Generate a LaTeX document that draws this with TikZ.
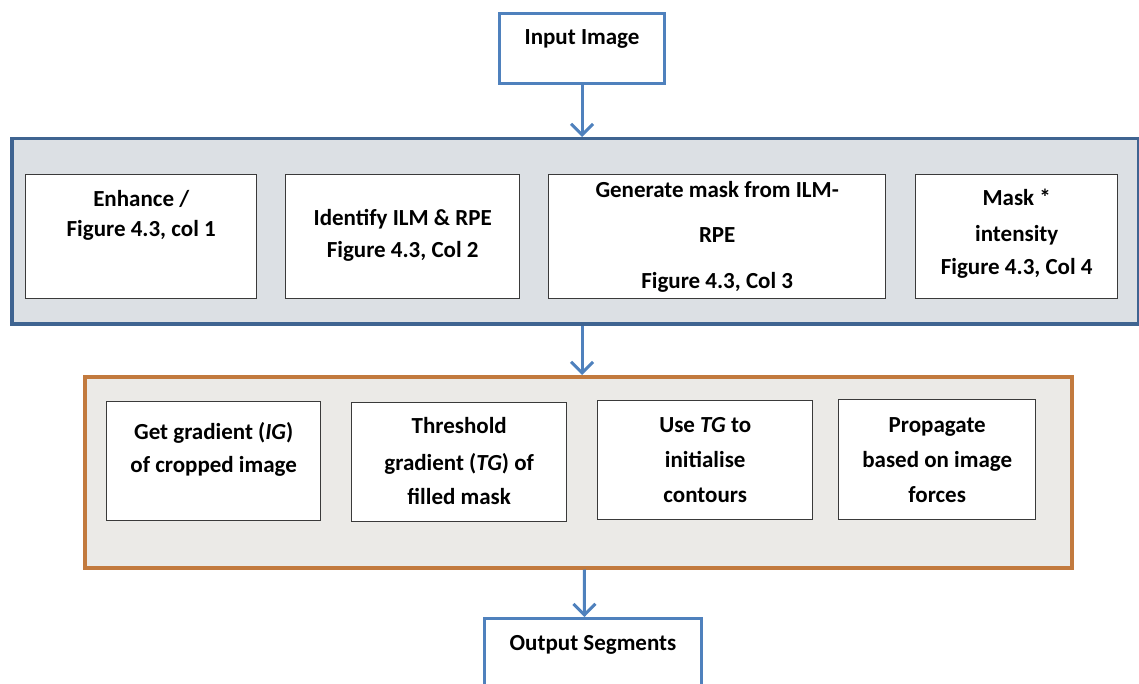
\documentclass[tikz,border=0pt]{standalone}
\usepackage{fontspec}
\setmainfont{Carlito}
\usetikzlibrary{arrows.meta,calc}
\definecolor{lblue}{HTML}{4F81BD}
\definecolor{dblue}{HTML}{3F6491}
\definecolor{bfill}{HTML}{DCE0E4}
\definecolor{orng}{HTML}{C27A3E}
\definecolor{ofill}{HTML}{EBEAE7}
\definecolor{bdr}{HTML}{3A3A3A}
\tikzset{
  iobox/.style={draw=lblue, line width=3pt, fill=white, anchor=north west, inner sep=0pt},
  bluecont/.style={draw=dblue, line width=3.5pt, fill=bfill, anchor=north west, inner sep=0pt},
  orcont/.style={draw=orng, line width=3.5pt, fill=ofill, anchor=north west, inner sep=0pt},
  inbox/.style={draw=bdr, line width=1.4pt, fill=white, anchor=north west, inner sep=0pt},
  txt/.style={font=\fontsize{23}{34}\selectfont\bfseries, align=center, inner sep=0pt, anchor=base},
  flow/.style={draw=lblue, line width=3pt, -{Straight Barb[length=11pt,width=22pt,line width=3pt]}},
}
\begin{document}
\begin{tikzpicture}[x=1pt,y=-1pt]
\useasboundingbox (0,0) rectangle (1139,684);
% input
\node[iobox, minimum width=165pt, minimum height=70pt] (inp) at (498,12) {};
\node[txt] (tinp) at ($(inp.north)+(0,33)$) {Input Image};
% blue container
\node[bluecont, minimum width=1127pt, minimum height=185pt] (bc) at (10,137) {};
\node[inbox, minimum width=231pt, minimum height=124pt] (b1) at (25,174) {};
\node[inbox, minimum width=234pt, minimum height=124pt] (b2) at (285,174) {};
\node[inbox, minimum width=337pt, minimum height=124pt] (b3) at (548,174) {};
\node[inbox, minimum width=202pt, minimum height=124pt] (b4) at (915,174) {};
\node[txt] (t1) at ($(b1.north)+(0,63)$) {Enhance /\\[-4pt]Figure 4.3, col 1};
\node[txt] (t2) at ($(b2.north)+(0,84)$) {Identify ILM \& RPE\\[-2pt]Figure 4.3, Col 2};
\node[txt] (t3) at ($(b3.north)+(0,114)$) {Generate mask from ILM-\\[11pt]RPE\\[11pt]Figure 4.3, Col 3};
\node[txt] (t4) at ($(b4.north)+(0,101)$) {Mask *\\[2pt]intensity\\[-1pt]Figure 4.3, Col 4};
% orange container
\node[orcont, minimum width=987pt, minimum height=191pt] (oc) at (83,375) {};
\node[inbox, minimum width=214pt, minimum height=119pt] (c1) at (106,401) {};
\node[inbox, minimum width=215pt, minimum height=119pt] (c2) at (351,402) {};
\node[inbox, minimum width=215pt, minimum height=119pt] (c3) at (597,400) {};
\node[inbox, minimum width=197pt, minimum height=120pt] (c4) at (838,399) {};
\node[txt] (u1) at ($(c1.north)+(0,71)$) {Get gradient (\textit{IG})\\[-1pt]of cropped image};
\node[txt] (u2) at ($(c2.north)+(0,102)$) {Threshold\\[3pt]gradient (\textit{TG}) of\\[0pt]filled mask};
\node[txt] (u3) at ($(c3.north)+(0,102)$) {Use \textit{TG} to\\[1pt]initialise\\[1pt]contours};
\node[txt] (u4) at ($(c4.north)+(0,103)$) {Propagate\\[1pt]based on image\\[1pt]forces};
% output
\node[iobox, minimum width=217pt, minimum height=85pt] (out) at (483,617) {};
\node[txt] (tout) at ($(out.north)+(0,33)$) {Output Segments};
% arrows
\draw[flow] (inp.south) -- (inp.south |- bc.north);
\draw[flow] (inp.south |- bc.south) -- (inp.south |- oc.north);
\draw[flow] ($(oc.south)+(6,0)$) -- ($(out.north)+(-8.5,0)$);
\end{tikzpicture}
\end{document}
